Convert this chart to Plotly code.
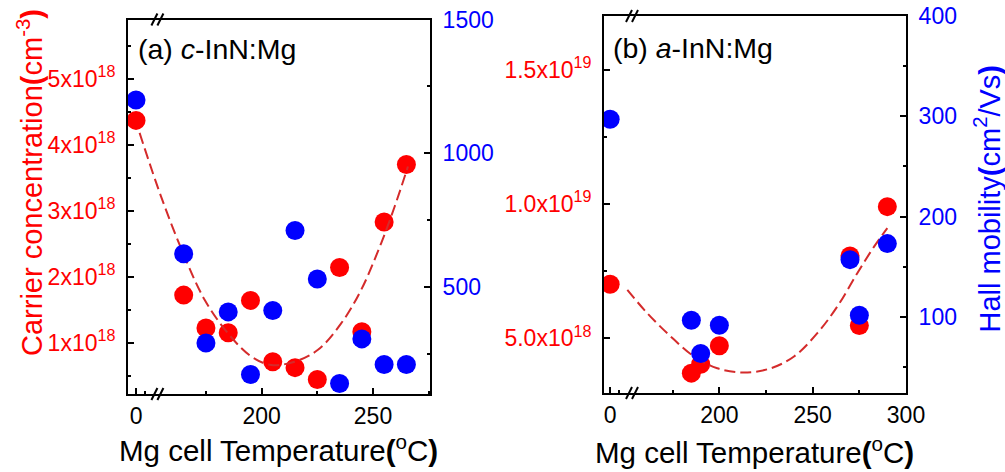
import plotly.graph_objects as go

# ---------------- data ----------------
# Panel (a) c-InN:Mg
a_temp = [0, 165, 175, 185, 195, 205, 215, 225, 235, 245, 255, 265]
a_carrier = [4.37e18, 1.72e18, 1.22e18, 1.15e18, 1.64e18, 0.71e18, 0.62e18,
             0.44e18, 2.14e18, 1.165e18, 2.83e18, 3.70e18]
a_mobility = [1199, 624, 291, 407, 173, 412, 711, 530, 139, 306, 210, 210]
a_fit_temp = [1.6, 154.9, 164.7, 174.4, 184.9, 195.3, 204.3, 214.8, 225.3,
              235.7, 244.7, 253.7, 259.7, 265.7]
a_fit_carrier = [4.18e18, 3.21e18, 2.36e18, 1.65e18, 1.14e18, 0.79e18, 0.66e18,
                 0.71e18, 0.89e18, 1.29e18, 1.80e18, 2.51e18, 3.06e18, 3.67e18]

# Panel (b) a-InN:Mg
b_temp = [0, 185, 190, 200, 270, 275, 290]
b_carrier = [7.01e18, 3.70e18, 4.03e18, 4.72e18, 8.06e18, 5.47e18, 9.90e18]
b_mobility = [297, 96.5, 63.4, 91.5, 157, 101.5, 173]
b_fit_temp = [150.7, 161.4, 174.0, 186.4, 198.9, 213.2, 227.5, 240.0, 252.5,
              263.2, 273.9, 282.9, 290.0]
b_fit_carrier = [6.80e18, 5.93e18, 5.06e18, 4.32e18, 3.88e18, 3.72e18, 3.88e18,
                 4.32e18, 5.19e18, 6.18e18, 7.42e18, 8.41e18, 9.10e18]

# tick labels
a_x_ticks = ["0", "200", "250"]
b_x_ticks = ["0", "200", "250", "300"]
a_y_ticks = ["1x10<sup>18</sup>", "2x10<sup>18</sup>", "3x10<sup>18</sup>",
             "4x10<sup>18</sup>", "5x10<sup>18</sup>"]
a_y_vals = [1e18, 2e18, 3e18, 4e18, 5e18]
a_y2_vals = [500, 1000, 1500]
b_y_ticks = ["5.0x10<sup>18</sup>", "1.0x10<sup>19</sup>", "1.5x10<sup>19</sup>"]
b_y_vals = [5e18, 1.0e19, 1.5e19]
b_y2_vals = [100, 200, 300, 400]

# ---------------- broken x axis mapping ----------------
ZERO_A = 143.6   # axis position where "0" sits in panel (a)
ZERO_B = 141.5   # axis position where "0" sits in panel (b)
BREAK_POS = 153.2


def axis_pos(temps, zero):
    return [t if t >= 100 else zero + t for t in temps]


RED = "#FF0000"
BLUE = "#0000FF"
FIT = "#D42B2B"
FONT = "Liberation Sans, Arial, sans-serif"
W, H = 1005, 472

fig = go.Figure()

# panel (a)
fig.add_trace(go.Scatter(x=axis_pos(a_temp, ZERO_A), y=a_carrier, mode="markers",
                         marker=dict(color=RED, size=19, line=dict(width=0)),
                         xaxis="x", yaxis="y", showlegend=False))
fig.add_trace(go.Scatter(x=axis_pos(a_temp, ZERO_A), y=a_mobility, mode="markers",
                         marker=dict(color=BLUE, size=19, line=dict(width=0)),
                         xaxis="x", yaxis="y2", showlegend=False))
fig.add_trace(go.Scatter(x=axis_pos(a_fit_temp, ZERO_A), y=a_fit_carrier, mode="lines",
                         line=dict(color=FIT, width=2, dash="11px,5px", shape="spline"),
                         xaxis="x", yaxis="y", showlegend=False))

# panel (b)
fig.add_trace(go.Scatter(x=axis_pos(b_temp, ZERO_B), y=b_carrier, mode="markers",
                         marker=dict(color=RED, size=19, line=dict(width=0)),
                         xaxis="x2", yaxis="y3", showlegend=False))
fig.add_trace(go.Scatter(x=axis_pos(b_temp, ZERO_B), y=b_mobility, mode="markers",
                         marker=dict(color=BLUE, size=19, line=dict(width=0)),
                         xaxis="x2", yaxis="y4", showlegend=False))
fig.add_trace(go.Scatter(x=axis_pos(b_fit_temp, ZERO_B), y=b_fit_carrier, mode="lines",
                         line=dict(color=FIT, width=2, dash="11px,5px", shape="spline"),
                         xaxis="x2", yaxis="y3", showlegend=False))

common = dict(showline=True, linecolor="black", linewidth=2, ticks="inside",
              ticklen=6, tickwidth=2, tickcolor="black", showgrid=False,
              zeroline=False, automargin=False)
ycommon = dict(common, ticklabelstandoff=6)
xcommon = dict(common, ticklabelstandoff=0)

A_DOM_X = [128 / W, 430 / W]
A_DOM_Y = [(H - 394) / H, (H - 19.5) / H]
B_DOM_X = [604 / W, 906 / W]
B_DOM_Y = [(H - 393) / H, (H - 16) / H]

fig.update_layout(
    width=W, height=H,
    margin=dict(l=0, r=0, t=0, b=0, pad=0, autoexpand=False),
    paper_bgcolor="white", plot_bgcolor="white",
    font=dict(family=FONT, color="black"),
    xaxis=dict(domain=A_DOM_X, range=[140.0, 275.6], anchor="y", mirror=True,
               tickvals=[ZERO_A, 200, 250], ticktext=a_x_ticks,
               tickfont=dict(size=23, color="black"),
               minor=dict(ticks="inside", ticklen=3, tickwidth=2, tickcolor="black",
                          tickvals=[147.6, 175, 225, 275]),
               **xcommon),
    yaxis=dict(domain=A_DOM_Y, range=[0.22e18, 5.9e18], anchor="x", side="left",
               tickvals=a_y_vals, ticktext=a_y_ticks,
               tickfont=dict(size=23, color=RED),
               minor=dict(ticks="inside", ticklen=3, tickwidth=2, tickcolor="black",
                          tickvals=[0.5e18, 1.5e18, 2.5e18, 3.5e18, 4.5e18, 5.5e18]),
               **ycommon),
    yaxis2=dict(overlaying="y", range=[100, 1500], anchor="x", side="right",
                tickvals=a_y2_vals, ticktext=[str(v) for v in a_y2_vals],
                tickfont=dict(size=23, color=BLUE),
                minor=dict(ticks="inside", ticklen=3, tickwidth=2, tickcolor="black",
                           tickvals=[250, 750, 1250]),
                **ycommon),
    xaxis2=dict(domain=B_DOM_X, range=[138.2, 300], anchor="y3", mirror=True,
                tickvals=[ZERO_B, 200, 250, 300], ticktext=b_x_ticks,
                tickfont=dict(size=23, color="black"),
                minor=dict(ticks="inside", ticklen=3, tickwidth=2, tickcolor="black",
                           tickvals=[146.3, 175, 225, 275]),
                **xcommon),
    yaxis3=dict(domain=B_DOM_Y, range=[2.96e18, 17.0e18], anchor="x2", side="left",
                tickvals=b_y_vals, ticktext=b_y_ticks,
                tickfont=dict(size=23, color=RED),
                minor=dict(ticks="inside", ticklen=3, tickwidth=2, tickcolor="black",
                           tickvals=[7.5e18, 1.25e19]),
                **ycommon),
    yaxis4=dict(overlaying="y3", range=[24, 400], anchor="x2", side="right",
                tickvals=b_y2_vals, ticktext=[str(v) for v in b_y2_vals],
                tickfont=dict(size=23, color=BLUE),
                minor=dict(ticks="inside", ticklen=3, tickwidth=2, tickcolor="black",
                           tickvals=[50, 150, 250, 350]),
                **ycommon),
)

# axis break marks "//"
shapes = []
for xr, yr in (("x", "y domain"), ("x2", "y3 domain")):
    for ya in (0, 1):
        for off in (-3, 3):
            shapes.append(dict(type="line", xref=xr, yref=yr,
                               xsizemode="pixel", ysizemode="pixel",
                               xanchor=BREAK_POS, yanchor=ya,
                               x0=off - 3, x1=off + 3, y0=-6, y1=6,
                               line=dict(color="black", width=2)))
fig.update_layout(shapes=shapes)

ann = [
    dict(text="Carrier concentration<b>(</b>cm<sup>-3</sup><b>)</b>", x=30 / W,
         y=(H - 183) / H, textangle=-90, font=dict(size=29, color=RED)),
    dict(text="Hall mobility<b>(</b>cm<sup>2</sup>/Vs<b>)</b>", x=987 / W,
         y=(H - 198.5) / H, textangle=-90, font=dict(size=29, color=BLUE)),
    dict(text="Mg cell Temperature<b>(</b><sup>o</sup>C<b>)</b>", x=278.3 / W,
         y=(H - 448) / H, font=dict(size=29.5, color="black")),
    dict(text="Mg cell Temperature<b>(</b><sup>o</sup>C<b>)</b>", x=754 / W,
         y=(H - 450) / H, font=dict(size=29.5, color="black")),
]
for a in ann:
    a.update(xref="paper", yref="paper", showarrow=False, xanchor="center",
             yanchor="middle")
ann += [
    dict(text="(a) <i>c</i>-InN:Mg", x=136 / W, y=(H - 49) / H, xref="paper",
         yref="paper", showarrow=False, xanchor="left", yanchor="middle",
         font=dict(size=28.5, color="black")),
    dict(text="(b) <i>a</i>-InN:Mg", x=611 / W, y=(H - 48) / H, xref="paper",
         yref="paper", showarrow=False, xanchor="left", yanchor="middle",
         font=dict(size=28.5, color="black")),
]
fig.update_layout(annotations=ann)

fig.write_html("out.html", config={"displayModeBar": False},
               post_script="document.body.style.margin='0';")
